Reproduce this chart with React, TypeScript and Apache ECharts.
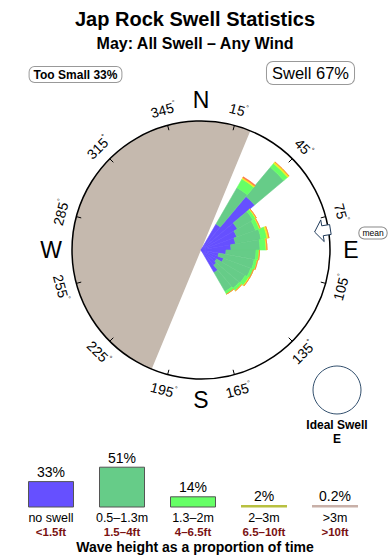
import React, { useEffect, useRef } from "react";
import * as echarts from "echarts";

// ---------- data ----------
const titleText = "Jap Rock Swell Statistics";
const subtitleText = "May: All Swell \u2013 Any Wind";
const tooSmallPct = 33;
const swellPct = 67;

// direction bins (10 degree wide), centre bearing
const binCenters = [35, 45, 55, 65, 75, 85, 95, 105, 115, 125, 135, 145];
// stacked radial lengths per height class (relative units, circle = 129)
const noSwell = [30, 70, 42, 38, 35, 30, 25, 18, 24, 18, 20, 26];
const h05to13 = [42, 38, 18, 20, 26, 29, 30, 36, 29, 33, 30, 22];
const h13to2 = [10, 5, 3, 4, 6, 6, 3, 3, 3, 4, 3, 3];
const h2to3 = [1.5, 2, 1, 1, 2, 1, 0.5, 0.5, 0, 1, 0.5, 0];
const hOver3 = [1, 0, 0, 0, 0, 0, 0, 0, 0, 0, 0, 0];
const radiusMax = 129;

// sheltered (blocked) arc, bearings
const shelterFrom = 202.5;
const shelterTo = 22.5;

const meanDirection = 81;

const tickBearings = [15, 45, 75, 105, 135, 165, 195, 225, 255, 285, 315, 345];
const compass = [
  { label: "N", bearing: 0 },
  { label: "E", bearing: 90 },
  { label: "S", bearing: 180 },
  { label: "W", bearing: 270 },
];

// legend: wave height share
const legendPct = [33, 51, 14, 2, 0.2];
const legendMetres = ["no swell", "0.5\u20131.3m", "1.3\u20132m", "2\u20133m", ">3m"];
const legendFeet = ["<1.5ft", "1.5\u20134ft", "4\u20136.5ft", "6.5\u201310ft", ">10ft"];
const legendColors = ["#6650ff", "#66cc88", "#66ff66", "#b8c040", "#c8b0a8"];
const roseColors = ["#6650ff", "#66cc88", "#66ff66", "#eeee22", "#ff7744"];
const roseNames = ["no swell", "0.5-1.3m", "1.3-2m", "2-3m", ">3m"];

const FONT = "Liberation Sans, Arial, Helvetica, sans-serif";

export default function App() {
  const ref = useRef<HTMLDivElement>(null);

  useEffect(() => {
    if (!ref.current) return;
    const chart = echarts.init(ref.current, undefined, { renderer: "svg" });

    const cx = 201;
    const cy = 250;
    const R = 129;
    const rad = (d: number) => (d * Math.PI) / 180;
    const pt = (b: number, r: number, off = 0) => [
      cx + r * Math.sin(rad(b)) + off * Math.cos(rad(b)),
      cy - r * Math.cos(rad(b)) + off * Math.sin(rad(b)),
    ];

    const binNames = Array.from({ length: 36 }, (_, i) => String(i * 10));
    const toFull = (vals: number[]) => {
      const arr = new Array(36).fill(0);
      binCenters.forEach((c, i) => {
        arr[Math.floor(c / 10)] = vals[i];
      });
      return arr;
    };
    const roseSeries = [noSwell, h05to13, h13to2, h2to3, hOver3].map((vals, k) => ({
      type: "bar",
      name: roseNames[k],
      coordinateSystem: "polar",
      polarIndex: 0,
      stack: "rose",
      data: toFull(vals),
      barCategoryGap: "0%",
      itemStyle: { color: roseColors[k], borderColor: roseColors[k], borderWidth: 0.6 },
      silent: true,
      z: 3,
    }));

    const shelterSpan = (shelterTo - shelterFrom + 360) % 360;

    const tickTexts = tickBearings.map((b) => {
      let a = b % 180;
      if (a > 90) a -= 180;
      const [x, y] = pt(b, 145);
      return {
        type: "text",
        x,
        y,
        rotation: -rad(a),
        z: 20,
        style: {
          text: `{n|${b}}{d|\u00b0}`,
          align: "center",
          verticalAlign: "middle",
          textAlign: "center",
          textVerticalAlign: "middle",
          rich: {
            n: { fontSize: 14, fontFamily: FONT, fill: "#000", lineHeight: 16 },
            d: { fontSize: 7, fontFamily: FONT, fill: "#000", verticalAlign: "top", lineHeight: 16 },
          },
        },
      };
    });

    const compassTexts = compass.map((c) => {
      const [x, y] = pt(c.bearing, 150);
      return {
        type: "text",
        x,
        y,
        z: 20,
        style: {
          text: c.label,
          fontSize: 23,
          fontFamily: FONT,
          fill: "#000",
          align: "center",
          verticalAlign: "middle",
          textAlign: "center",
          textVerticalAlign: "middle",
        },
      };
    });

    const arrowPts = [
      pt(meanDirection, 115, 0),
      pt(meanDirection, 123, 11),
      pt(meanDirection, 123, 5),
      pt(meanDirection, 131, 5),
      pt(meanDirection, 131, -5),
      pt(meanDirection, 123, -5),
      pt(meanDirection, 123, -11),
    ];

    const txt = (text: string, x: number, y: number, size: number, weight: string, extra: any = {}) => ({
      type: "text",
      x,
      y,
      z: 20,
      style: {
        text,
        fontSize: size,
        fontWeight: weight,
        fontFamily: FONT,
        fill: "#000",
        align: "center",
        verticalAlign: "middle",
        textAlign: "center",
        textVerticalAlign: "middle",
        ...extra,
      },
    });

    const option: any = {
      animation: false,
      backgroundColor: "#ffffff",
      polar: [
        { center: [cx, cy], radius: [0, R] },
        { center: [cx, cy], radius: [0, R] },
      ],
      angleAxis: [
        {
          polarIndex: 0,
          type: "category",
          data: binNames,
          startAngle: 90,
          clockwise: true,
          boundaryGap: true,
          axisLine: { show: false },
          axisTick: { show: false },
          axisLabel: { show: false },
          splitLine: { show: false },
        },
        {
          polarIndex: 1,
          type: "value",
          min: 0,
          max: 360,
          interval: 30,
          startAngle: 90 - tickBearings[0],
          clockwise: true,
          axisLine: { show: true, lineStyle: { color: "#000", width: 1.5 } },
          axisTick: { show: true, inside: true, length: 5, lineStyle: { color: "#000", width: 1 } },
          axisLabel: { show: false },
          splitLine: { show: false },
          z: 10,
        },
      ],
      radiusAxis: [
        { polarIndex: 0, type: "value", min: 0, max: radiusMax, show: false, axisLine: { show: false }, splitLine: { show: false } },
        { polarIndex: 1, type: "value", min: 0, max: 1, show: false, axisLine: { show: false }, splitLine: { show: false } },
      ],
      grid: { left: 15.5, top: 427.5, width: 355, height: 80 },
      xAxis: {
        type: "category",
        data: legendMetres,
        axisLine: { show: false },
        axisTick: { show: false },
        axisLabel: {
          interval: 0,
          margin: 3,
          formatter: (v: string, i: number) => `{m|${v}}\n{f|${legendFeet[i]}}`,
          rich: {
            m: { fontSize: 12.5, fontFamily: FONT, color: "#000", lineHeight: 14 },
            f: { fontSize: 11.5, fontFamily: FONT, fontWeight: "bold", color: "#7a1212", lineHeight: 14 },
          },
        },
      },
      yAxis: { type: "value", min: 0, max: 100, show: false, splitLine: { show: false } },
      series: [
        {
          type: "pie",
          center: [cx, cy],
          radius: [0, R],
          startAngle: 90 - shelterFrom + 360,
          clockwise: true,
          silent: true,
          label: { show: false },
          labelLine: { show: false },
          emphasis: { disabled: true },
          z: 1,
          data: [
            { value: shelterSpan, name: "sheltered", itemStyle: { color: "#c5b9ae" } },
            { value: 360 - shelterSpan, name: "open", itemStyle: { color: "rgba(0,0,0,0)" } },
          ],
        },
        ...roseSeries,
        {
          type: "bar",
          xAxisIndex: 0,
          yAxisIndex: 0,
          barWidth: 46,
          barMinHeight: 2.5,
          silent: true,
          data: legendPct.map((v, i) => ({
            value: v,
            itemStyle: {
              color: legendColors[i],
              borderColor: i < 3 ? "#555" : legendColors[i],
              borderWidth: i < 3 ? 1 : 0,
            },
          })),
          label: {
            show: true,
            position: "top",
            distance: 2,
            formatter: (p: any) => `${p.value}%`,
            fontSize: 14,
            fontFamily: FONT,
            color: "#000",
          },
        },
      ],
      graphic: [
        txt(titleText, 195, 19, 20, "bold"),
        txt(subtitleText, 195, 43, 16, "bold"),
        txt(`Too Small ${tooSmallPct}%`, 75.5, 74.5, 12, "bold", {
          backgroundColor: "#fff",
          borderColor: "#999",
          borderWidth: 1,
          borderRadius: 5,
          padding: [2, 4, 1, 4],
        }),
        txt(`Swell ${swellPct}%`, 310.5, 73, 16.5, "normal", {
          backgroundColor: "#fff",
          borderColor: "#999",
          borderWidth: 1,
          borderRadius: 6,
          padding: [3, 5, 2, 5],
        }),
        ...tickTexts,
        ...compassTexts,
        {
          type: "polygon",
          z: 25,
          shape: { points: arrowPts },
          style: { fill: "#fff", stroke: "#1f3a5a", lineWidth: 1 },
        },
        txt("mean", 373, 233, 8.5, "normal", {
          backgroundColor: "#fff",
          borderColor: "#888",
          borderWidth: 1,
          borderRadius: 5,
          padding: [1, 3, 1, 3],
        }),
        {
          type: "circle",
          z: 20,
          shape: { cx: 337, cy: 390, r: 24 },
          style: { fill: "none", stroke: "#33506e", lineWidth: 1 },
        },
        txt("Ideal Swell", 337, 425, 12, "bold"),
        txt("E", 337, 439, 12, "bold"),
        txt("Wave height as a proportion of time", 195, 547, 14, "bold"),
      ],
    };

    chart.setOption(option);
    return () => chart.dispose();
  }, []);

  return (
    <div
      ref={ref}
      style={{ position: "fixed", left: 0, top: 0, width: 390, height: 560, background: "#fff" }}
    />
  );
}
